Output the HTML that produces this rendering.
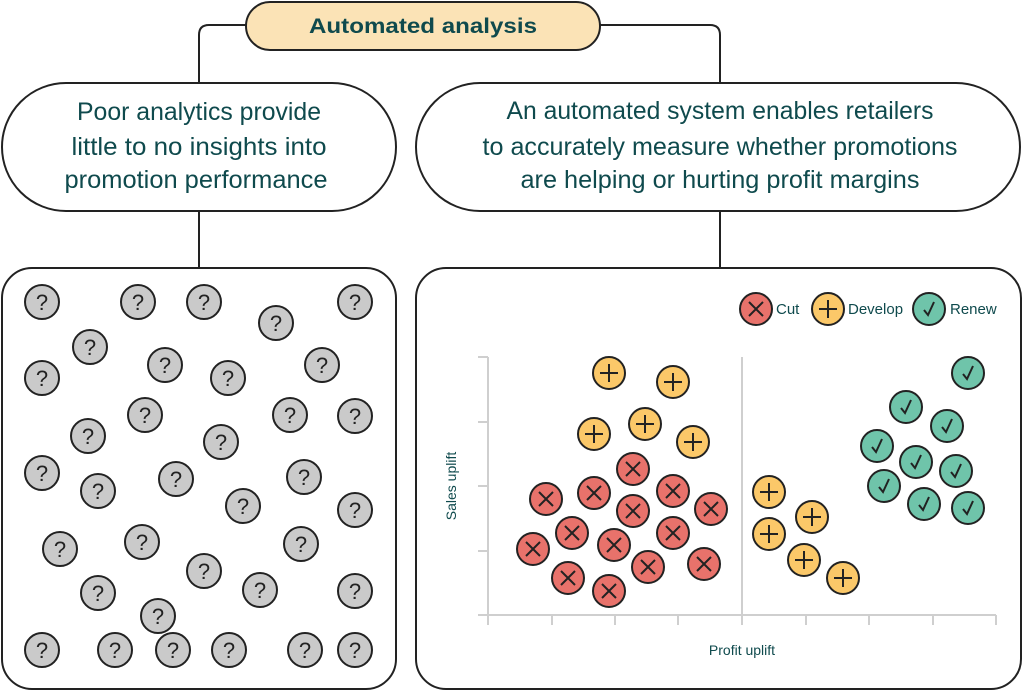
<!DOCTYPE html>
<html><head><meta charset="utf-8"><style>
html,body{margin:0;padding:0;background:#fff;}
svg{display:block;}
text{font-family:"Liberation Sans",sans-serif;fill:#0f4a4d;}
</style></head><body>
<svg width="1024" height="691" viewBox="0 0 1024 691" xmlns="http://www.w3.org/2000/svg">
<defs>
<g id="q"><circle r="17" fill="#cacaca" stroke="#222" stroke-width="2"/><text x="0" y="8" text-anchor="middle" font-size="22" style="fill:#222">?</text></g>
<g id="x"><circle r="16" fill="#e8726b" stroke="#222" stroke-width="2"/><path d="M-7,-7L7,7M7,-7L-7,7" stroke="#222" stroke-width="2"/></g>
<g id="p"><circle r="16" fill="#fbc869" stroke="#222" stroke-width="2"/><path d="M-9,0H9M0,-9V9" stroke="#222" stroke-width="2"/></g>
<g id="c"><circle r="16" fill="#6fc4aa" stroke="#222" stroke-width="2"/><path d="M-5,1L-1,6L5,-7" stroke="#222" stroke-width="2" fill="none"/></g>
</defs>
<path d="M246,25H209Q199,25 199,35V83" fill="none" stroke="#222" stroke-width="2"/>
<path d="M600,25H710Q720,25 720,35V83" fill="none" stroke="#222" stroke-width="2"/>
<path d="M199,211V268M720,211V268" stroke="#222" stroke-width="2"/>
<rect x="246" y="2" width="354" height="48" rx="24" fill="#fbe3b6" stroke="#222" stroke-width="2"/>
<text x="423" y="33" text-anchor="middle" font-size="21" font-weight="bold" textLength="228" lengthAdjust="spacingAndGlyphs">Automated analysis</text>
<rect x="2" y="83" width="394" height="128" rx="64" fill="#fff" stroke="#222" stroke-width="2"/>
<rect x="416" y="83" width="604" height="128" rx="64" fill="#fff" stroke="#222" stroke-width="2"/>
<g font-size="25" text-anchor="middle">
<text x="199" y="120" textLength="244" lengthAdjust="spacingAndGlyphs">Poor analytics provide</text>
<text x="199" y="155" textLength="255" lengthAdjust="spacingAndGlyphs">little to no insights into</text>
<text x="196" y="188" textLength="263" lengthAdjust="spacingAndGlyphs">promotion performance</text>
<text x="720" y="119" textLength="427" lengthAdjust="spacingAndGlyphs">An automated system enables retailers</text>
<text x="720" y="155" textLength="475" lengthAdjust="spacingAndGlyphs">to accurately measure whether promotions</text>
<text x="720" y="188" textLength="399" lengthAdjust="spacingAndGlyphs">are helping or hurting profit margins</text>
</g>
<rect x="2" y="268" width="394" height="421" rx="30" fill="#fff" stroke="#222" stroke-width="2"/>
<rect x="416" y="268" width="605" height="421" rx="30" fill="#fff" stroke="#222" stroke-width="2"/>
<g>
<use href="#q" x="42" y="302"/><use href="#q" x="138" y="302"/><use href="#q" x="204" y="302"/><use href="#q" x="276" y="323"/><use href="#q" x="355" y="302"/>
<use href="#q" x="90" y="347"/><use href="#q" x="165" y="365"/><use href="#q" x="228" y="378"/><use href="#q" x="322" y="365"/><use href="#q" x="42" y="378"/>
<use href="#q" x="145" y="415"/><use href="#q" x="88" y="436"/><use href="#q" x="221" y="442"/><use href="#q" x="290" y="415"/><use href="#q" x="355" y="416"/>
<use href="#q" x="42" y="473"/><use href="#q" x="98" y="491"/><use href="#q" x="176" y="479"/><use href="#q" x="243" y="506"/><use href="#q" x="304" y="477"/><use href="#q" x="355" y="510"/>
<use href="#q" x="60" y="549"/><use href="#q" x="142" y="542"/><use href="#q" x="301" y="544"/><use href="#q" x="204" y="571"/><use href="#q" x="98" y="593"/><use href="#q" x="260" y="590"/><use href="#q" x="355" y="591"/><use href="#q" x="158" y="616"/>
<use href="#q" x="42" y="650"/><use href="#q" x="115" y="650"/><use href="#q" x="173" y="650"/><use href="#q" x="229" y="650"/><use href="#q" x="305" y="650"/><use href="#q" x="355" y="650"/>
</g>
<g stroke="#cfcfcf" stroke-width="2" fill="none">
<path d="M488,357V615M478,615H996M742,357V615"/>
<path d="M478,357H488M478,422H488M478,486H488M478,551H488"/>
<path d="M488,615V625M552,615V625M615,615V625M678,615V625M742,615V625M806,615V625M869,615V625M933,615V625M996,615V625"/>
</g>
<text x="742" y="655" text-anchor="middle" font-size="14">Profit uplift</text>
<text transform="translate(456,486) rotate(-90)" text-anchor="middle" font-size="14">Sales uplift</text>
<use href="#x" x="756" y="309"/><text x="776" y="314" font-size="15">Cut</text>
<use href="#p" x="828" y="309"/><text x="848" y="314" font-size="15">Develop</text>
<use href="#c" x="929" y="309"/><text x="950" y="314" font-size="15">Renew</text>
<use href="#p" x="609" y="373"/><use href="#p" x="673" y="382"/><use href="#p" x="594" y="434"/><use href="#p" x="645" y="424"/><use href="#p" x="693" y="442"/>
<use href="#p" x="769" y="492"/><use href="#p" x="812" y="517"/><use href="#p" x="769" y="534"/><use href="#p" x="804" y="560"/><use href="#p" x="843" y="578"/>
<use href="#x" x="633" y="469"/><use href="#x" x="546" y="499"/><use href="#x" x="594" y="493"/><use href="#x" x="673" y="491"/><use href="#x" x="633" y="511"/><use href="#x" x="711" y="509"/>
<use href="#x" x="572" y="533"/><use href="#x" x="614" y="545"/><use href="#x" x="673" y="533"/><use href="#x" x="533" y="549"/><use href="#x" x="648" y="567"/><use href="#x" x="704" y="564"/><use href="#x" x="568" y="578"/><use href="#x" x="609" y="591"/>
<use href="#c" x="968" y="373"/><use href="#c" x="906" y="407"/><use href="#c" x="947" y="426"/><use href="#c" x="877" y="446"/><use href="#c" x="916" y="462"/><use href="#c" x="956" y="471"/><use href="#c" x="884" y="486"/><use href="#c" x="924" y="504"/><use href="#c" x="968" y="508"/>
</svg>
</body></html>
